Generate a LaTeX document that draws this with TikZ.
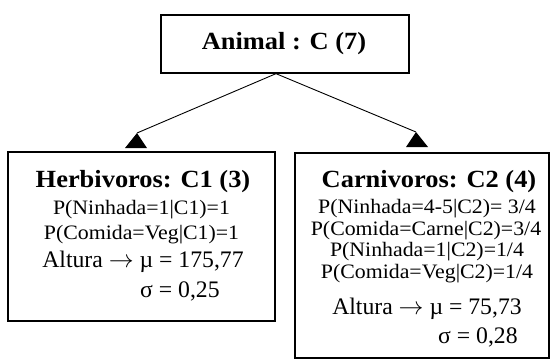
\documentclass[tikz,border=0pt]{standalone}
\usepackage{fontspec}
\setmainfont{Liberation Serif}
\newfontfamily\headfont[FakeStretch=1.07]{Liberation Serif}
\newfontfamily\probfont[FakeStretch=1.065]{Liberation Serif}
\begin{document}
\begin{tikzpicture}[x=1pt,y=-1pt,
  box/.style={draw, line width=1.3pt, inner sep=0pt},
  head/.style={anchor=base, inner sep=0pt, font=\headfont\fontsize{24.7}{24.7}\selectfont\bfseries},
  prob/.style={anchor=base, inner sep=0pt, font=\probfont\fontsize{20.5}{20.5}\selectfont},
  meas/.style={anchor=base, inner sep=0pt, font=\fontsize{23.7}{23.7}\selectfont},
  link/.style={line width=0.9pt},
  tipL/.pic={\fill (0,0) -- (-12,15) -- (10,15) -- cycle;},
  tipR/.pic={\fill (0,0) -- (-10,15) -- (12,15) -- cycle;}]
\path[use as bounding box] (0,0) rectangle (551,360);
% top
\node[box, minimum width=248pt, minimum height=58pt] (animal) at (285,44) {};
\node[head] (animalt) at (284,49) {Animal : C (7)};
% left
\node[box, minimum width=267pt, minimum height=169pt] (herb) at (141.5,236.5) {};
\node[head] (herbt) at (143,187) {Herbivoros: C1 (3)};
\node[prob] (h1) at (141.5,214) {P(Ninhada=1|C1)=1};
\node[prob] (h2) at (141.5,239) {P(Comida=Veg|C1)=1};
\node[meas] (h3) at (143,267) {Altura $\rightarrow$ µ = 175,77};
\node[meas, anchor=base west] (h4) at (140,297) {σ = 0,25};
% right
\node[box, minimum width=254pt, minimum height=205pt] (carn) at (422,255.5) {};
\node[head] (carnt) at (429,187) {Carnivoros: C2 (4)};
\node[prob] (c1) at (427,213) {P(Ninhada=4-5|C2)= 3/4};
\node[prob] (c2) at (426,235) {P(Comida=Carne|C2)=3/4};
\node[prob] (c3) at (427,256) {P(Ninhada=1|C2)=1/4};
\node[prob] (c4) at (427,278) {P(Comida=Veg|C2)=1/4};
\node[meas] (c5) at (427,314) {Altura $\rightarrow$ µ = 75,73};
\node[meas, anchor=base west] (c6) at (438,343) {σ = 0,28};
% connectors
\coordinate (t1) at (137,133);
\coordinate (t2) at (416,132);
\coordinate (src) at ([xshift=-9pt]animal.south);
\draw[link] (src) -- (t1);
\draw[link] (src) -- (t2);
\pic at (t1) {tipL};
\pic at (t2) {tipR};
\end{tikzpicture}
\end{document}
